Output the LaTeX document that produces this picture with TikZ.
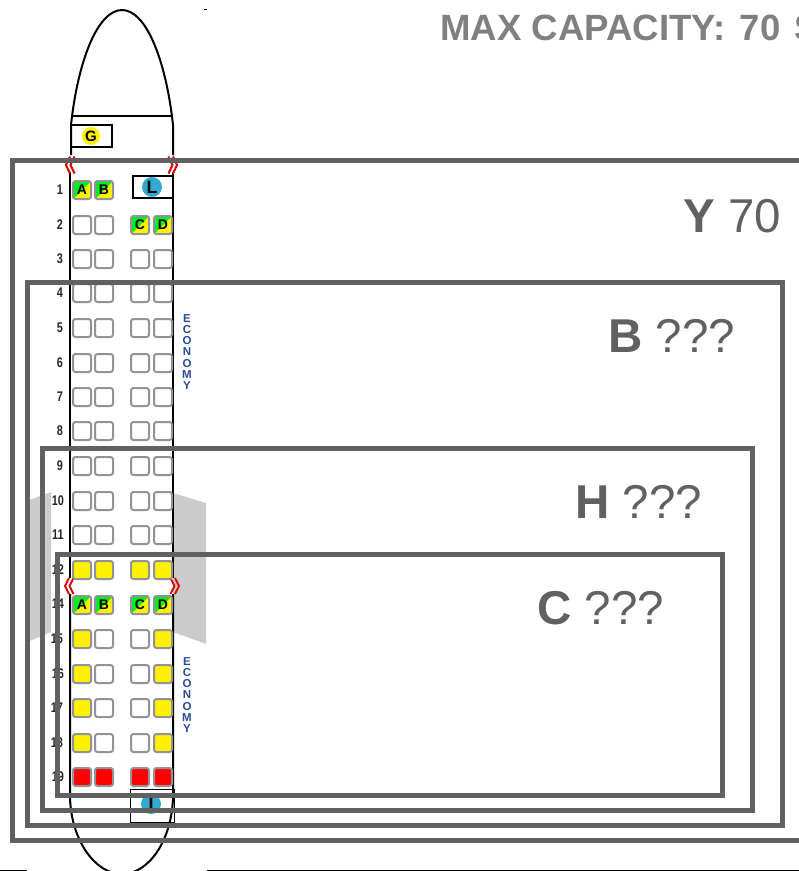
\documentclass[tikz,border=0pt]{standalone}
\usepackage{fontspec}
\setmainfont{Liberation Sans}
\definecolor{framegray}{HTML}{616161}
\definecolor{titlegray}{HTML}{808080}
\definecolor{wingray}{HTML}{CCCCCC}
\definecolor{seatedge}{HTML}{929298}
\definecolor{circblue}{HTML}{33A9CF}
\definecolor{econblue}{HTML}{2A4B96}
\definecolor{seatgreen}{HTML}{00EE22}
\tikzset{
  hull/.style={draw=black,line width=2pt},
  thinbox/.style={draw=black,line width=1.3pt},
  framebox/.style={draw=framegray,line width=5pt},
  seatbase/.style={rectangle,rounded corners=2.5pt,minimum width=18pt,minimum height=18pt,inner sep=0pt,draw=seatedge,line width=2pt,font=\fontsize{14}{14}\selectfont\bfseries},
  seatfree/.style={seatbase,fill=white},
  seatyel/.style={seatbase,fill=yellow},
  seatred/.style={seatbase,fill=red},
  seatgrn/.style={seatbase,fill=yellow,path picture={\fill[seatgreen] (path picture bounding box.north west) -- (path picture bounding box.north east) -- (path picture bounding box.south west) -- cycle;}},
  rownum/.style={font=\fontsize{14}{14}\selectfont\bfseries,text=black!85,inner sep=0pt},
  badge/.style={circle,minimum size=20pt,inner sep=0pt,font=\fontsize{18}{18}\selectfont\bfseries},
  exitmark/.style={draw=red!85!black,line width=2pt},
  econ/.style={align=center,text=econblue,inner sep=0pt,font=\fontsize{11.5}{11.3}\selectfont\bfseries},
  bigtxt/.style={anchor=base west,inner sep=0pt,text=framegray,font=\fontsize{47.5}{56}\selectfont},
}
\begin{document}
\begin{tikzpicture}[x=1pt,y=-1pt]
\path[use as bounding box,clip] (0,0) rectangle (799,871);
% wings
\fill[wingray] (27,501) -- (51,492) -- (51,632) -- (27,642) -- cycle;
\fill[wingray] (173,493) -- (206,503) -- (206,644) -- (173,632) -- cycle;
% fuselage
\draw[hull] (71,155) -- (71,125) .. controls (78,60) and (98,10) .. (122,10) .. controls (146,10) and (166,60) .. (173,125) -- (173,155);
\draw[line width=1.2pt] (71,116) -- (172,116);
\draw[hull] (70,172) -- (70,578);
\draw[hull] (173,172) -- (173,578);
\draw[hull] (70,594) -- (70,797) .. controls (71,840) and (95,874) .. (122,874) .. controls (149,874) and (172,840) .. (173,797) -- (173,594);
% edge marks
\draw[line width=1pt] (0,870) -- (27,870);
\draw[line width=1pt] (207,870) -- (799,870);
\draw[line width=1pt] (204,9) -- (207,9);
% galley, lavatories
\node[thinbox,minimum width=41pt,minimum height=22pt,inner sep=0pt] (galley) at (91.5,136) {};
\node[badge,fill=yellow,minimum size=18pt,font=\fontsize{15}{15}\selectfont\bfseries] (g) at (91,136) {G};
\node[thinbox,minimum width=40pt,minimum height=22pt,inner sep=0pt] (lavtop) at (153,187) {};
\node[badge,fill=circblue] (l) at (152,187) {L};
\node[draw=black,line width=1pt,minimum width=44pt,minimum height=33pt,inner sep=0pt] (lavbot) at (152,806) {};
\node[badge,fill=circblue] (i) at (151,804) {I};
% exits
\foreach \yy/\xa/\xb/\h in {165/66/177/8.5,586/65/179/8}{
  \foreach \d in {0,4.5}{
    \draw[exitmark] (\xa+\d+4,\yy-\h) -- (\xa+\d,\yy) -- (\xa+\d+4,\yy+\h);
    \draw[exitmark] (\xb-\d-4,\yy-\h) -- (\xb-\d,\yy) -- (\xb-\d-4,\yy+\h);
  }
}
% row numbers
\foreach \r/\yy/\xx in {1/190/60,2/225/60,3/259/60,4/293/60,5/328/60,6/363/60,7/397/60,8/431/60,9/466/60,10/501/58,11/535/58,12/570/58,14/604/58,15/639/57,16/674/58,17/708/57,18/743/57,19/777/58}
  \node[rownum] (n\r) at (\xx,\yy) {\scalebox{0.78}[1]{\r}};
% seats
\foreach \yy in {225,259,293,328,363,397,431,466,501,535}{
  \node[seatfree] (a\yy) at (82,\yy) {};
  \node[seatfree] (b\yy) at (104,\yy) {};
}
\foreach \yy in {259,293,328,363,397,431,466,501,535}{
  \node[seatfree] (c\yy) at (140,\yy) {};
  \node[seatfree] (d\yy) at (163,\yy) {};
}
\node[seatgrn] (a1) at (82,190) {A};
\node[seatgrn] (b1) at (104,190) {B};
\node[seatgrn] (c2) at (140,225) {C};
\node[seatgrn] (d2) at (163,225) {D};
\node[seatyel] (a12) at (82,570) {};
\node[seatyel] (b12) at (104,570) {};
\node[seatyel] (c12) at (140,570) {};
\node[seatyel] (d12) at (163,570) {};
\node[seatgrn] (a14) at (82,605) {A};
\node[seatgrn] (b14) at (104,605) {B};
\node[seatgrn] (c14) at (140,605) {C};
\node[seatgrn] (d14) at (163,605) {D};
\foreach \yy in {639,674,708,743}{
  \node[seatyel] (a\yy) at (82,\yy) {};
  \node[seatfree] (b\yy) at (104,\yy) {};
  \node[seatfree] (c\yy) at (140,\yy) {};
  \node[seatyel] (d\yy) at (163,\yy) {};
}
\node[seatred] (a19) at (82,777) {};
\node[seatred] (b19) at (104,777) {};
\node[seatred] (c19) at (140,777) {};
\node[seatred] (d19) at (163,777) {};
% cabin labels
\node[econ] (econ1) at (187,352) {E\\C\\O\\N\\O\\M\\Y};
\node[econ] (econ2) at (187,695) {E\\C\\O\\N\\O\\M\\Y};
% fare class frames
\draw[framebox] (12,160) rectangle (830,840);
\draw[framebox] (27,282) rectangle (782,825);
\draw[framebox] (42,448) rectangle (752,810);
\draw[framebox] (57,554) rectangle (722,795);
% texts
\node[anchor=base west,inner sep=0pt,text=titlegray,font=\fontsize{36.6}{40}\selectfont\bfseries] (title) at (440,40) {MAX CAPACITY:\hspace{4pt} 70\hspace{4pt} S};
\node[bigtxt] (ty) at (683,232) {\textbf{Y} 70};
\node[bigtxt] (tb) at (608,352) {\textbf{B} ???};
\node[bigtxt] (th) at (575,518) {\textbf{H} ???};
\node[bigtxt] (tc) at (537,624) {\textbf{C} ???};
\end{tikzpicture}
\end{document}
